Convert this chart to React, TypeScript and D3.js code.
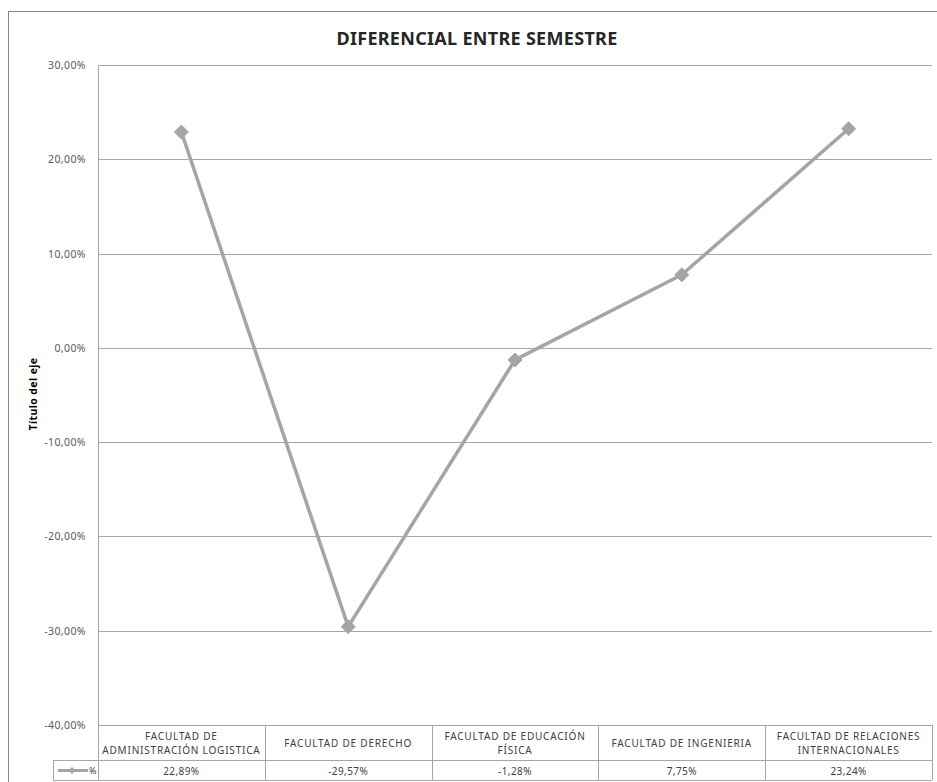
import React from 'react';
import * as d3 from 'd3';

// categories (two-line header text) and values
const categories = [
  'FACULTAD DE ADMINISTRACIÓN LOGISTICA',
  'FACULTAD DE DERECHO',
  'FACULTAD DE EDUCACIÓN FÍSICA',
  'FACULTAD DE INGENIERIA',
  'FACULTAD DE RELACIONES INTERNACIONALES',
];
const headerLines = [
  ['FACULTAD DE', 'ADMINISTRACIÓN LOGISTICA'],
  ['FACULTAD DE DERECHO'],
  ['FACULTAD DE EDUCACIÓN', 'FÍSICA'],
  ['FACULTAD DE INGENIERIA'],
  ['FACULTAD DE RELACIONES', 'INTERNACIONALES'],
];
const values = [0.2289, -0.2957, -0.0128, 0.0775, 0.2324];
const valueLabels = ['22,89%', '-29,57%', '-1,28%', '7,75%', '23,24%'];
const yTicks = [0.3, 0.2, 0.1, 0, -0.1, -0.2, -0.3, -0.4];
const seriesName = '%';

const W = 937;
const H = 782;
const left = 98;
const right = 932;
const top = 65;
const bottom = 725;
const headerBottom = 760;
const tableBottom = 780;
const legendLeft = 53;

const lineColor = '#a5a5a5';
const gridColor = '#a6a6a6';
const textColor = '#595959';
const font = '"Noto Sans", "Open Sans", sans-serif';

const fmt = (v: number) => (v * 100).toFixed(2).replace('.', ',') + '%';

// square diamond like Excel's marker
const diamondPath = (r: number) => `M0,${-r}L${r},0L0,${r}L${-r},0Z`;

export default function App() {
  const x = d3.scaleBand<string>().domain(categories).range([left, right]);
  const y = d3.scaleLinear().domain([-0.4, 0.3]).range([bottom, top]);
  const cx = (c: string) => (x(c) ?? 0) + x.bandwidth() / 2;

  const line = d3
    .line<number>()
    .x((_, i) => cx(categories[i]))
    .y((d) => y(d));

  return (
    <svg width={W} height={H} style={{ position: 'absolute', left: 0, top: 0, background: '#fff' }}>
      {/* chart border */}
      <rect x={8.5} y={11.5} width={W + 10} height={H} fill="none" stroke="#868686" strokeWidth={1} />

      <text
        x={477}
        y={45}
        textAnchor="middle"
        fontFamily={font}
        fontWeight="bold"
        fontSize={18}
        letterSpacing={0.3}
        fill="#262626"
      >
        DIFERENCIAL ENTRE SEMESTRE
      </text>

      {/* gridlines and y ticks */}
      {yTicks.map((t) => (
        <g key={t}>
          <line x1={left} x2={right} y1={Math.round(y(t)) + 0.5} y2={Math.round(y(t)) + 0.5} stroke={gridColor} strokeWidth={1} />
          <text
            x={86}
            y={y(t) + 4}
            textAnchor="end"
            fontFamily={font}
            fontSize={10.5}
            letterSpacing={0.4}
            fill={textColor}
          >
            {fmt(t)}
          </text>
        </g>
      ))}

      {/* axis title */}
      <text
        transform={`translate(37, 394) rotate(-90)`}
        textAnchor="middle"
        fontFamily={font}
        fontWeight="bold"
        fontSize={10.5}
        letterSpacing={0.4}
        fill="#000"
      >
        Título del eje
      </text>

      {/* left axis line */}
      <line x1={left + 0.5} x2={left + 0.5} y1={top} y2={tableBottom} stroke={gridColor} />

      {/* data table */}
      <g stroke={gridColor} strokeWidth={1} fill="none">
        <line x1={left} x2={right} y1={headerBottom + 0.5} y2={headerBottom + 0.5} />
        <line x1={legendLeft} x2={right} y1={tableBottom + 0.5} y2={tableBottom + 0.5} />
        <line x1={legendLeft} x2={left} y1={headerBottom + 0.5} y2={headerBottom + 0.5} />
        <line x1={legendLeft + 0.5} x2={legendLeft + 0.5} y1={headerBottom} y2={tableBottom} />
        {categories.map((c) => (
          <line
            key={c}
            x1={Math.round((x(c) ?? 0) + x.bandwidth()) + 0.5}
            x2={Math.round((x(c) ?? 0) + x.bandwidth()) + 0.5}
            y1={bottom}
            y2={tableBottom}
          />
        ))}
      </g>

      {categories.map((c, i) => (
        <g key={c} fontFamily={font} fontSize={10} letterSpacing={0.8} fill="#404040" textAnchor="middle">
          {headerLines[i].map((ln, j) => (
            <text
              key={j}
              x={cx(c)}
              y={
                headerLines[i].length === 1
                  ? (bottom + headerBottom) / 2 + 4
                  : bottom + 15 + j * 14
              }
            >
              {ln}
            </text>
          ))}
          <text x={cx(c)} y={tableBottom - 5} letterSpacing={0.4}>
            {valueLabels[i]}
          </text>
        </g>
      ))}

      {/* legend key in table */}
      <line x1={58} x2={88} y1={770.5} y2={770.5} stroke={lineColor} strokeWidth={3} />
      <path d={diamondPath(3.5)} transform="translate(72,770.5)" fill={lineColor} />
      <text x={89} y={774} fontFamily={font} fontSize={9} fill="#404040">
        {seriesName}
      </text>

      {/* series */}
      <path d={line(values)!} fill="none" stroke={lineColor} strokeWidth={3.5} strokeLinejoin="round" />
      {values.map((v, i) => (
        <path
          key={i}
          d={diamondPath(7)}
          transform={`translate(${cx(categories[i])},${y(v)})`}
          fill={lineColor}
          stroke={lineColor}
          strokeWidth={1}
          strokeLinejoin="round"
        />
      ))}
    </svg>
  );
}
